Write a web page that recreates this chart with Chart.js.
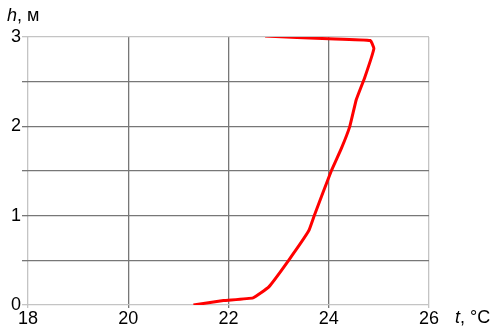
<!DOCTYPE html>
<html>
<head>
<meta charset="utf-8">
<script src="https://cdn.jsdelivr.net/npm/chart.js@4/dist/chart.umd.min.js"></script>
<style>
  html, body { margin: 0; padding: 0; background: #fff; }
  #wrap { width: 494px; height: 328px; }
</style>
</head>
<body>
<div id="wrap"><canvas id="myChart" width="494" height="328"></canvas></div>
<script>
// temperature profile, t in °C vs height h in m
var temps = [21.3, 21.9, 22.49, 22.8, 23.2, 23.6, 23.71, 24.05, 24.25, 24.42, 24.55, 24.72, 24.9, 24.83, 24.0, 22.73];
var heights = [0, 0.05, 0.08, 0.2, 0.5, 0.83, 1.0, 1.5, 1.75, 2.0, 2.3, 2.55, 2.87, 2.96, 2.98, 3.01];

var xTicks = [18, 20, 22, 24, 26];
var yTicks = [0, 1, 2, 3];

var FONT = "'Liberation Sans', Arial, sans-serif";

var points = temps.map(function (t, i) {
  return { x: t, y: heights[i] };
});

// colour of grid lines: edges light, inner dark
function gridColor(ctx, min, max) {
  var v = ctx.tick ? ctx.tick.value : null;
  if (v === min || v === max) return "#c4c4c4";
  return "#777777";
}

const axisTitles = {
  id: "axisTitles",
  afterDraw(chart) {
    var c = chart.ctx;
    c.save();
    c.fillStyle = "#000";
    c.textBaseline = "alphabetic";
    c.textAlign = "left";
    c.font = "italic 18px " + FONT;
    c.fillText("h", 7, 21);
    var w = c.measureText("h").width;
    c.font = "18px " + FONT;
    c.fillText(", м", 7 + w, 21);

    c.font = "italic 18px " + FONT;
    c.fillText("t", 455, 323);
    w = c.measureText("t").width;
    c.font = "18px " + FONT;
    c.fillText(", °C", 455 + w, 323);
    c.restore();
  },
};

const config = {
  type: "scatter",
  data: {
    datasets: [
      {
        data: points,
        showLine: true,
        borderColor: "#ff0000",
        borderWidth: 3,
        pointRadius: 0,
        tension: 0.1,
        fill: false,
      },
    ],
  },
  options: {
    responsive: false,
    animation: false,
    layout: { padding: { top: 37, right: 65, left: 0, bottom: 0 } },
    plugins: { legend: { display: false }, tooltip: { enabled: false } },
    scales: {
      x: {
        type: "linear",
        min: 18,
        max: 26,
        afterBuildTicks: function (scale) {
          scale.ticks = xTicks.map(function (v) { return { value: v }; });
        },
        afterFit: function (scale) { scale.height = 23; },
        grid: {
          color: function (ctx) { return gridColor(ctx, 18, 26); },
          lineWidth: 1.3,
          tickLength: 3,
        },
        border: { display: false },
        ticks: {
          color: "#000",
          font: { family: FONT, size: 18 },
          padding: 0,
          maxRotation: 0,
        },
      },
      y: {
        type: "linear",
        min: 0,
        max: 3,
        afterBuildTicks: function (scale) {
          var t = [];
          for (var v = 0; v <= 3; v += 0.5) t.push({ value: v });
          scale.ticks = t;
        },
        afterFit: function (scale) { scale.width = 28; },
        grid: {
          color: function (ctx) { return gridColor(ctx, 0, 3); },
          lineWidth: 1.3,
          tickLength: 6,
        },
        border: { display: false },
        ticks: {
          color: "#000",
          font: { family: FONT, size: 18 },
          padding: 1,
          callback: function (v) {
            return yTicks.indexOf(v) >= 0 ? String(v) : "";
          },
        },
      },
    },
  },
  plugins: [axisTitles],
};

const myChart = new Chart(document.getElementById("myChart"), config);
</script>
</body>
</html>
